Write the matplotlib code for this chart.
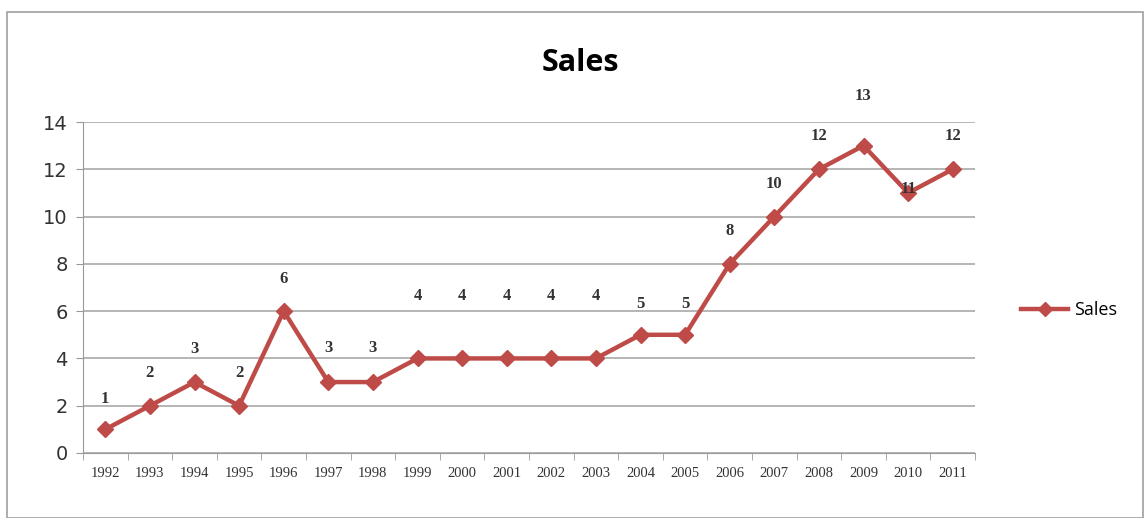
import matplotlib.pyplot as plt
from matplotlib.patches import Rectangle
from matplotlib.lines import Line2D

years = ['1992', '1993', '1994', '1995', '1996', '1997', '1998', '1999', '2000', '2001',
         '2002', '2003', '2004', '2005', '2006', '2007', '2008', '2009', '2010', '2011']
sales = [1, 2, 3, 2, 6, 3, 3, 4, 4, 4, 4, 4, 5, 5, 8, 10, 12, 13, 11, 12]
# label offsets above each point, in pixels (as placed in the original)
label_dy = [30, 33, 33, 33, 32, 34, 34, 62, 62, 62, 62, 62, 31, 31, 33, 33, 33, 50, 4, 33]

red = '#BE4B48'
W, H = 1144, 518
fig = plt.figure(figsize=(W / 100, H / 100), dpi=100)
fig.patches.append(Rectangle((7 / W, 0), (W - 8) / W, (H - 12) / H, transform=fig.transFigure,
                             fill=False, edgecolor='#A0A0A0', linewidth=1.2))

ax = fig.add_axes([83 / W, 1 - 453 / H, (975 - 83) / W, (453 - 122) / H])
x = list(range(len(years)))
ax.plot(x, sales, color=red, linewidth=3.2, marker='D', markersize=8.5, zorder=3)

for xi, v, dy in zip(x, sales, label_dy):
    ax.annotate(str(v), (xi, v), xytext=(0, dy * 0.72), textcoords='offset points',
                ha='center', va='center', fontsize=12, fontweight='bold',
                family='Liberation Serif', color='#333333')

ax.set_xlim(-0.5, len(years) - 0.5)
ax.set_ylim(0, 14)
ax.set_yticks(range(0, 15, 2))
ax.set_xticks(x)
ax.set_xticklabels(years, family='Liberation Serif', fontsize=10.5, color='#333333')
ax.set_xticks([i - 0.5 for i in range(len(years) + 1)], minor=True)
ax.tick_params(axis='x', which='major', length=0, pad=10)
ax.tick_params(axis='x', which='minor', length=5, color='#999999')
ax.tick_params(axis='y', length=5, color='#999999', labelsize=14, labelcolor='#333333', pad=6)
ax.yaxis.grid(True, color='#B0B0B0', linewidth=1.3)
ax.set_axisbelow(True)
for s in ['top', 'right']:
    ax.spines[s].set_visible(False)
ax.spines['left'].set_color('#999999')
ax.spines['bottom'].set_color('#999999')

fig.text(580 / W, 1 - 63 / H, 'Sales', ha='center', va='center', fontsize=22, fontweight='bold',
         family='Open Sans', color='black')

handle = Line2D([], [], color=red, linewidth=3.2, marker='D', markersize=7)
fig.legend([handle], ['Sales'], loc='center left', bbox_to_anchor=(1005 / W, 1 - 310 / H),
           frameon=False, handlelength=2.6, handletextpad=0.3,
           prop={'family': 'Open Sans', 'size': 13})

fig.savefig('out.png', dpi=100)
